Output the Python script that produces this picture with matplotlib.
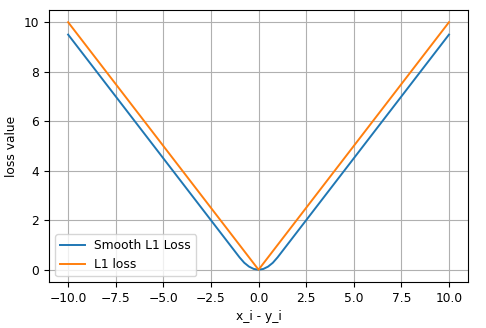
import matplotlib
matplotlib.use("Agg")
import matplotlib.pyplot as plt

# values
smooth_x = [-10.0, -1.0, -0.75, -0.5, -0.25, 0.0, 0.25, 0.5, 0.75, 1.0, 10.0]
smooth_y = [9.5, 0.5, 0.28, 0.125, 0.03, 0.0, 0.03, 0.125, 0.28, 0.5, 9.5]
l1_x = [-10.0, 0.0, 10.0]
l1_y = [10.0, 0.0, 10.0]

plt.rcParams['font.size'] = 8.8
plt.rcParams['lines.linewidth'] = 1.4

fig = plt.figure(figsize=(4.86, 3.28), dpi=100)
ax = fig.add_axes([0.101, 0.14, 0.862, 0.83])

ax.plot(smooth_x, smooth_y, label='Smooth L1 Loss')
ax.plot(l1_x, l1_y, label='L1 loss')

ax.set_xlabel('x_i - y_i')
ax.set_ylabel('loss value')
ax.grid(True)
ax.legend(loc='lower left')

fig.savefig('out.png', dpi=100)
